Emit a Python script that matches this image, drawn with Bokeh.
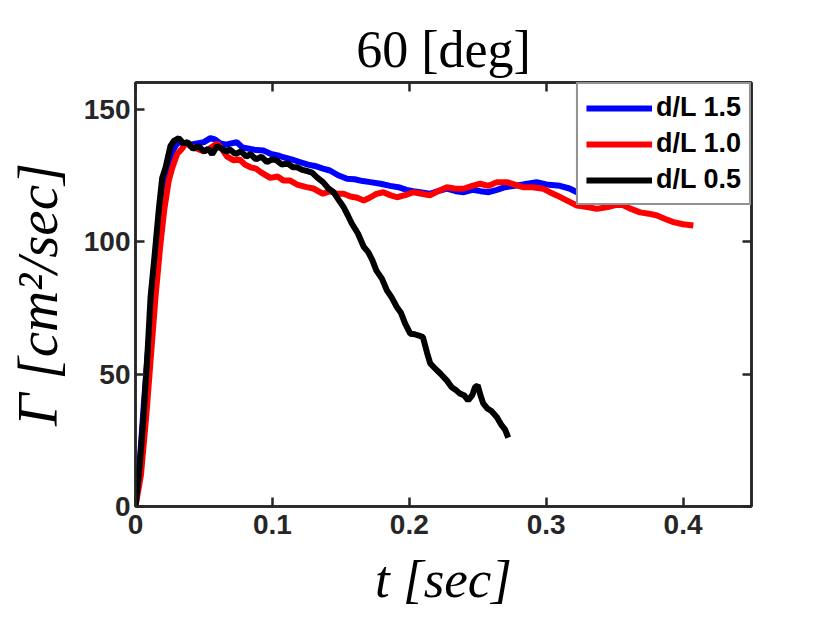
from bokeh.plotting import figure
from bokeh.models import LinearAxis, Legend, LegendItem, FixedTicker, Range1d
from bokeh.embed import file_html
from bokeh.resources import INLINE

# ---------------- data ----------------
t_blue = [0, 0.003, 0.006, 0.009, 0.012, 0.0155, 0.019, 0.022, 0.025, 0.028, 0.031, 0.035,
          0.040, 0.045, 0.050, 0.0547, 0.058, 0.062, 0.066, 0.070, 0.074, 0.078, 0.083,
          0.088, 0.0937, 0.099, 0.104, 0.108, 0.114, 0.120, 0.126, 0.131, 0.137, 0.142,
          0.148, 0.1545, 0.160, 0.166, 0.1715, 0.179, 0.186, 0.192, 0.198, 0.203, 0.209,
          0.215, 0.221, 0.2275, 0.234, 0.240, 0.246, 0.252, 0.258, 0.264, 0.270, 0.277,
          0.283, 0.293, 0.300, 0.310, 0.317, 0.3248, 0.334, 0.3467, 0.352]
v_blue = [0, 16, 38, 58, 78, 96, 112, 122, 130, 135, 137.5, 137,
          136.5, 137, 137.5, 139, 138.5, 137, 136.5, 137, 137.5, 135.5, 135,
          134.5, 134.3, 133, 132.5, 131.8, 131, 130, 129, 128.5, 127.5, 126.8,
          125, 123.7, 123.5, 122.8, 122.4, 121.8, 121, 120.5, 119.5, 119, 118.5,
          118, 119, 120, 119, 118.6, 119.5, 119, 118.6, 119.5, 120.5, 121,
          121.5, 122.4, 121.5, 121, 120, 118, 115.5, 114.8, 114]

t_red = [0, 0.004, 0.008, 0.011, 0.0146, 0.018, 0.021, 0.0243, 0.027, 0.0304, 0.034, 0.037,
         0.040, 0.045, 0.050, 0.054, 0.0596, 0.063, 0.067, 0.0717, 0.076, 0.080, 0.084,
         0.088, 0.092, 0.0985, 0.104, 0.108, 0.113, 0.118, 0.125, 0.130, 0.137, 0.142,
         0.147, 0.152, 0.157, 0.162, 0.1667, 0.171, 0.176, 0.181, 0.186, 0.191, 0.197,
         0.203, 0.209, 0.215, 0.221, 0.2275, 0.233, 0.2395, 0.246, 0.2518, 0.258, 0.264,
         0.2713, 0.277, 0.283, 0.290, 0.298, 0.303, 0.3078, 0.315, 0.3224, 0.330, 0.337,
         0.345, 0.354, 0.361, 0.3686, 0.375, 0.381, 0.387, 0.393, 0.400, 0.4075]
v_red = [0, 12, 35, 55, 79, 98, 112, 123, 128, 133, 135, 137.5,
         136, 135, 134, 135, 137, 135, 132, 130.6, 131, 129, 128,
         127.5, 126, 124, 124.5, 123, 123, 121.5, 120.5, 120, 118, 119,
         118, 118, 117, 116.5, 115.5, 116.5, 118, 118.6, 117.5, 116.7, 117.5,
         118.6, 118, 117.4, 119, 120.5, 120, 119.9, 121, 121.8, 121, 122.4,
         122.4, 121.5, 120.5, 120.5, 119.9, 118.5, 117.4, 115.5, 113.6, 113, 112.3,
         113, 114.2, 112.5, 111, 110.5, 109.8, 108.5, 107.3, 106.5, 106]

t_black = [0, 0.003, 0.006, 0.009, 0.011, 0.014, 0.017, 0.0195, 0.022, 0.0255, 0.028, 0.0316,
           0.035, 0.038, 0.042, 0.046, 0.050, 0.053, 0.056, 0.0596, 0.063, 0.066, 0.069,
           0.073, 0.077, 0.081, 0.084, 0.088, 0.092, 0.096, 0.100, 0.103, 0.107, 0.111,
           0.115, 0.118, 0.122, 0.126, 0.129, 0.133, 0.137, 0.141, 0.1447, 0.148, 0.152,
           0.155, 0.158, 0.1625, 0.1667, 0.170, 0.173, 0.176, 0.180, 0.1837, 0.187, 0.191,
           0.194, 0.197, 0.2007, 0.204, 0.207, 0.210, 0.213, 0.2153, 0.219, 0.223, 0.2275,
           0.231, 0.234, 0.237, 0.240, 0.243, 0.246, 0.248, 0.250, 0.252, 0.254, 0.257,
           0.260, 0.264, 0.267, 0.270, 0.2723]
v_black = [0, 15, 35, 60, 79, 95, 112, 124, 128, 136, 138, 139,
           137, 137.5, 135, 136, 134, 135, 133, 136, 135, 134, 134.7,
           133, 134, 132, 133, 131, 132, 130, 131, 130.6, 129, 129.5,
           128, 128, 127, 126.5, 126, 124, 122.4, 120, 118.6, 116, 113,
           110, 106.8, 103, 98, 96, 93, 89, 86, 81.5, 79, 75.2,
           73, 69, 65.2, 65, 64.5, 63.9, 58, 54, 52, 50, 47.5,
           45, 44, 42.6, 42, 40, 42, 45, 45.7, 42, 38.9, 37,
           36, 33.7, 31, 29, 26]

series_labels = ["d/L 1.5", "d/L 1.0", "d/L 0.5"]
series_colors = ["#0000ff", "#ff0000", "#000000"]

x_ticks = [0, 0.1, 0.2, 0.3, 0.4]
x_tick_labels = ["0", "0.1", "0.2", "0.3", "0.4"]
y_ticks = [0, 50, 100, 150]
y_tick_labels = ["0", "50", "100", "150"]

title_text = "60 [deg]"
x_label = "t [sec]"
y_label = "Γ [cm²/sec]"

# ---------------- styling ----------------
AX = "#262626"
SERIF = "Liberation Serif"
SANS = "Liberation Sans"

p = figure(width=826, height=620, output_backend="svg", toolbar_location=None,
           x_range=Range1d(0, 0.45), y_range=Range1d(0, 160),
           min_border_left=135, min_border_right=75, min_border_top=82, min_border_bottom=114,
           background_fill_color="white", border_fill_color="white")

p.grid.visible = False
p.outline_line_color = AX
p.outline_line_width = 2.5

p.title.text = title_text
p.title.text_font = SERIF
p.title.text_font_size = "52px"
p.title.text_font_style = "normal"
p.title.text_color = "black"
p.title.align = "center"
p.title.standoff = 10


def style_axis(ax, ticks, labels, show_labels=True):
    ax.ticker = FixedTicker(ticks=ticks)
    ax.major_label_overrides = {tk: lb for tk, lb in zip(ticks, labels)}
    ax.axis_line_color = AX
    ax.axis_line_width = 2.5
    ax.major_tick_line_color = AX
    ax.major_tick_line_width = 2.5
    ax.major_tick_in = 9
    ax.major_tick_out = 0
    ax.minor_tick_line_color = None
    if show_labels:
        ax.major_label_text_font = SANS
        ax.major_label_text_font_style = "bold"
        ax.major_label_text_font_size = "28px"
        ax.major_label_text_color = AX
    else:
        ax.major_label_text_font_size = "0px"
        ax.major_label_text_color = None
        ax.major_label_standoff = 0


style_axis(p.xaxis[0], x_ticks, x_tick_labels)
style_axis(p.yaxis[0], y_ticks, y_tick_labels)
p.xaxis[0].major_label_standoff = 8
p.yaxis[0].major_label_standoff = 5

p.xaxis[0].axis_label = x_label
p.xaxis[0].axis_label_text_font = SERIF
p.xaxis[0].axis_label_text_font_style = "italic"
p.xaxis[0].axis_label_text_font_size = "53px"
p.xaxis[0].axis_label_text_color = "black"
p.xaxis[0].axis_label_standoff = 13

p.yaxis[0].axis_label = y_label
p.yaxis[0].axis_label_text_font = SERIF
p.yaxis[0].axis_label_text_font_style = "italic"
p.yaxis[0].axis_label_text_font_size = "57px"
p.yaxis[0].axis_label_text_color = "black"
p.yaxis[0].axis_label_standoff = 12

top_ax = LinearAxis()
style_axis(top_ax, x_ticks, x_tick_labels, show_labels=False)
top_ax.major_label_standoff = 10   # empty room that lifts the title
p.add_layout(top_ax, "above")
right_ax = LinearAxis()
style_axis(right_ax, y_ticks, y_tick_labels, show_labels=False)
p.add_layout(right_ax, "right")

rb = p.line(t_blue, v_blue, line_color=series_colors[0], line_width=6)
rr = p.line(t_red, v_red, line_color=series_colors[1], line_width=6)
rk = p.line(t_black, v_black, line_color=series_colors[2], line_width=6)

legend = Legend(items=[LegendItem(label=series_labels[0], renderers=[rb]),
                       LegendItem(label=series_labels[1], renderers=[rr]),
                       LegendItem(label=series_labels[2], renderers=[rk])],
                location="top_right", margin=0, padding=8, spacing=5,
                glyph_width=66, glyph_height=28, label_height=28, label_standoff=4,
                border_line_color=AX, border_line_width=2.5,
                background_fill_color="white", background_fill_alpha=1.0,
                label_text_font=SANS, label_text_font_style="bold",
                label_text_font_size="27px", label_text_color="black")
p.add_layout(legend)

open("out.html", "w").write(file_html(p, INLINE))
